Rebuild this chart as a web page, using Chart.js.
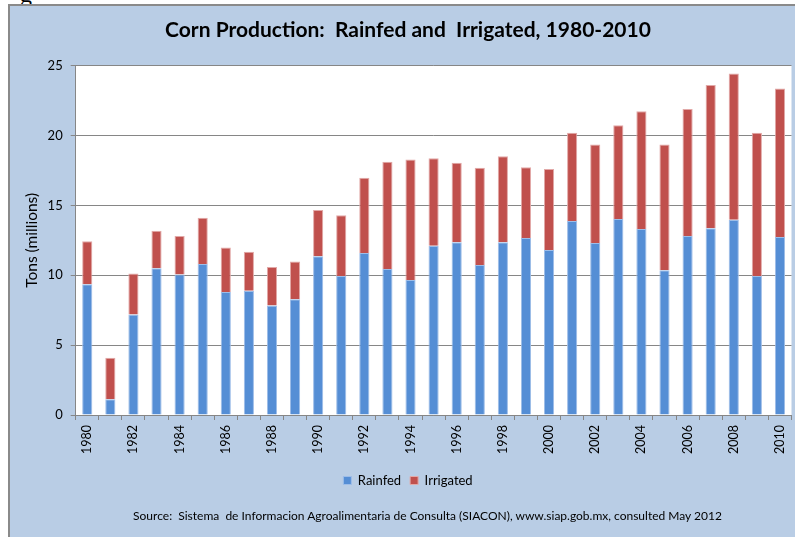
<!DOCTYPE html>
<html>
<head>
<meta charset="utf-8">
<script src="https://cdn.jsdelivr.net/npm/chart.js@4"></script>
<style>
  html, body { margin: 0; padding: 0; background: #fff; }
  #wrap { position: relative; width: 795px; height: 537px; overflow: hidden; }
  #panel { position: absolute; left: 8px; top: 4px; width: 800px; height: 540px;
           background: #b9cde5; border-left: 2px solid #8a8a8a; border-top: 2px solid #8a8a8a; box-sizing: border-box; }
  #frag { position: absolute; left: 20px; top: -19px; font: 24px "Liberation Serif", serif; color: #000; }
  #source { position: absolute; left: 0; width: 855px; top: 508px; text-align: center;
            font: 12px Lato, "Open Sans", sans-serif; color: #000; white-space: pre; }
  canvas { position: absolute; left: 0; top: 0; }
</style>
</head>
<body>
<div id="wrap">
  <div id="frag">g</div>
  <div id="panel"></div>
  <canvas id="chart" width="795" height="537"></canvas>
  <div id="source">Source:  Sistema  de Informacion Agroalimentaria de Consulta (SIACON), www.siap.gob.mx, consulted May 2012</div>
</div>
<script>
// Corn production, rainfed vs irrigated (millions of tons)
const years = ["1980", "1981", "1982", "1983", "1984", "1985", "1986", "1987", "1988", "1989",
  "1990", "1991", "1992", "1993", "1994", "1995", "1996", "1997", "1998", "1999",
  "2000", "2001", "2002", "2003", "2004", "2005", "2006", "2007", "2008", "2009", "2010"];
const rainfed = [9.36, 1.12, 7.19, 10.50, 10.05, 10.81, 8.81, 8.90, 7.83, 8.29,
  11.36, 9.95, 11.60, 10.45, 9.67, 12.12, 12.36, 10.74, 12.36, 12.67,
  11.81, 13.88, 12.31, 14.02, 13.31, 10.36, 12.81, 13.36, 13.98, 9.95, 12.74];
const irrigated = [3.07, 2.98, 2.93, 2.69, 2.76, 3.31, 3.17, 2.79, 2.77, 2.69,
  3.31, 4.34, 5.38, 7.67, 8.62, 6.26, 5.69, 6.95, 6.16, 5.07,
  5.79, 6.33, 7.05, 6.72, 8.43, 9.00, 9.09, 10.26, 10.47, 10.26, 10.62];
const yTicks = [0, 5, 10, 15, 20, 25];

const FONT = "Lato, 'Open Sans', sans-serif";
const GRID = "#868686";

// white plot background
const plotBg = {
  id: "plotBg",
  beforeDraw(chart) {
    const { ctx, chartArea: a } = chart;
    ctx.save();
    ctx.fillStyle = "#ffffff";
    ctx.fillRect(a.left, a.top, a.right - a.left, a.bottom - a.top);
    ctx.restore();
  },
};

new Chart(document.getElementById("chart"), {
  type: "bar",
  data: {
    labels: years,
    datasets: [
      {
        label: "Rainfed",
        data: rainfed,
        backgroundColor: "#558ed5",
        borderColor: "#9dbde8",
        borderWidth: 1,
        borderSkipped: "bottom",
        barPercentage: 0.44,
        categoryPercentage: 1,
      },
      {
        label: "Irrigated",
        data: irrigated,
        backgroundColor: "#c0504d",
        borderColor: "#e2a9a8",
        borderWidth: 1,
        borderSkipped: "bottom",
        barPercentage: 0.44,
        categoryPercentage: 1,
      },
    ],
  },
  options: {
    responsive: false,
    animation: false,
    layout: { padding: { left: 24.5, right: 3.5, top: 0, bottom: 40 } },
    scales: {
      x: {
        stacked: true,
        grid: { drawOnChartArea: false, drawTicks: true, tickLength: 5, offset: true, color: GRID },
        border: { color: GRID },
        ticks: {
          autoSkip: false,
          minRotation: 90,
          maxRotation: 90,
          padding: 5,
          color: "#000",
          font: { family: FONT, size: 12.5 },
          callback: (v, i) => (i % 2 === 0 ? years[i] : ""),
        },
        afterFit: (s) => { s.height = 50; s.paddingLeft = 0; s.paddingRight = 0; },
      },
      y: {
        stacked: true,
        min: 0,
        max: 25,
        afterBuildTicks: (s) => { s.ticks = yTicks.map((v) => ({ value: v })); },
        grid: { color: GRID, tickLength: 5 },
        border: { color: GRID },
        ticks: { padding: 8, color: "#000", font: { family: FONT, size: 13 } },
        title: {
          display: true,
          text: "Tons (millions)",
          color: "#000",
          font: { family: FONT, size: 15.5 },
          padding: { top: -2, bottom: 0 },
        },
        afterFit: (s) => { s.width = 51.2; },
      },
    },
    plugins: {
      title: {
        display: true,
        text: "Corn Production:  Rainfed and  Irrigated, 1980-2010",
        color: "#000",
        font: { family: FONT, size: 21, weight: "bold" },
        padding: { top: 17.4, bottom: 23.1 },
      },
      legend: {
        position: "bottom",
        labels: {
          color: "#000",
          font: { family: FONT, size: 13 },
          boxWidth: 8,
          boxHeight: 8,
          padding: 9,
          useBorderRadius: false,
        },
      },
      tooltip: { enabled: false },
    },
  },
  plugins: [plotBg],
});
</script>
</body>
</html>
